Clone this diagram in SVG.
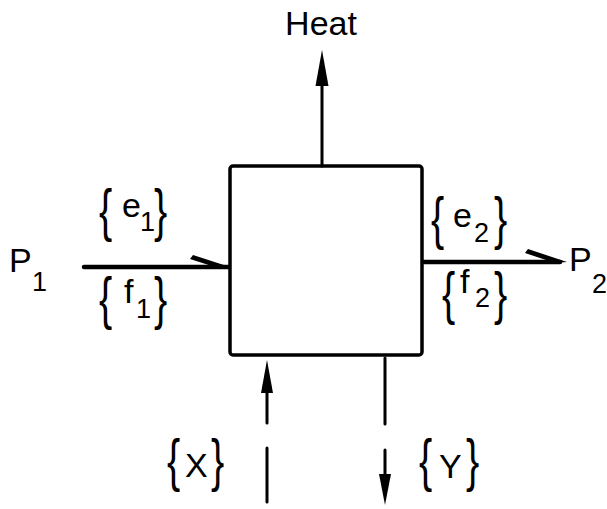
<svg xmlns="http://www.w3.org/2000/svg" width="607" height="509" viewBox="0 0 607 509">
<style>
.t{font-family:"Liberation Sans",Arial,sans-serif;fill:#000}
.b{font-size:44px}
.m{font-size:34px}
.s{font-size:27px}
.ln{stroke:#000;fill:none;stroke-linecap:round}
.ah{fill:#000;stroke:none}
</style>
<rect width="607" height="509" fill="#fff"/>
<g id="box">
<rect x="230" y="166" width="192" height="189" rx="3" fill="#fff" stroke="#000" stroke-width="3.5"/>
</g>
<g id="connectors">
<line class="ln" x1="322" y1="166" x2="322" y2="80" stroke-width="3"/>
<polygon class="ah" points="322,50 315.5,86 328.5,86"/>
<line class="ln" x1="84" y1="267" x2="228" y2="267" stroke-width="4.5"/>
<polygon class="ah" points="230,267 193,255 190,259 218,268"/>
<line class="ln" x1="423" y1="262" x2="560" y2="262" stroke-width="4.5"/>
<polygon class="ah" points="567,262 528,249 525,253 555,263"/>
<line class="ln" x1="267" y1="423" x2="267" y2="388" stroke-width="3"/>
<polygon class="ah" points="267,360 261,393 273,393"/>
<line class="ln" x1="267" y1="448" x2="267" y2="502" stroke-width="3"/>
<line class="ln" x1="385" y1="358" x2="385" y2="424" stroke-width="3"/>
<line class="ln" x1="385" y1="450" x2="385" y2="480" stroke-width="3"/>
<polygon class="ah" points="385,505 379,474 391,474"/>
</g>
<g id="heat"><text class="t m" x="321" y="35" text-anchor="middle">Heat</text></g>
<g id="p1"><text class="t m" x="9" y="272">P</text><text class="t s" x="32" y="291">1</text></g>
<g id="p2"><text class="t m" x="569" y="271">P</text><text class="t s" x="592" y="293">2</text></g>
<g id="e1">
<text class="t b" transform="translate(99,230) scale(0.9,1.3)">{</text>
<text class="t m" x="122" y="217">e</text><text class="t s" x="140" y="231">1</text>
<text class="t b" transform="translate(154,230) scale(0.9,1.3)">}</text></g>
<g id="f1">
<text class="t b" transform="translate(99,318) scale(0.9,1.3)">{</text>
<text class="t m" x="124" y="303">f</text><text class="t s" x="136" y="318">1</text>
<text class="t b" transform="translate(154,318) scale(0.9,1.3)">}</text></g>
<g id="e2">
<text class="t b" transform="translate(431,238) scale(0.9,1.3)">{</text>
<text class="t m" x="453" y="227">e</text><text class="t s" x="474" y="242">2</text>
<text class="t b" transform="translate(494,238) scale(0.9,1.3)">}</text></g>
<g id="f2">
<text class="t b" transform="translate(442,313) scale(0.9,1.3)">{</text>
<text class="t m" x="460" y="293">f</text><text class="t s" x="475" y="307">2</text>
<text class="t b" transform="translate(494,313) scale(0.9,1.3)">}</text></g>
<g id="x">
<text class="t b" transform="translate(167,480) scale(0.9,1.3)">{</text>
<text class="t m" x="185" y="477">X</text>
<text class="t b" transform="translate(211,480) scale(0.9,1.3)">}</text></g>
<g id="y">
<text class="t b" transform="translate(419,480) scale(0.9,1.3)">{</text>
<text class="t m" x="439" y="478">Y</text>
<text class="t b" transform="translate(466,480) scale(0.9,1.3)">}</text></g>
</svg>
